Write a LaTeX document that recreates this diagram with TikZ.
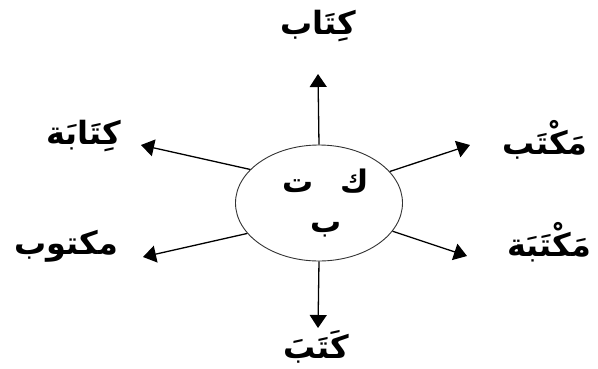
\documentclass[tikz,border=0pt]{standalone}
\usepackage{fontspec}
\usetikzlibrary{shapes.geometric,arrows.meta}
\TeXXeTstate=1
\newfontfamily\arabicfont[Script=Arabic]{DejaVu Sans}
\begin{document}
\begin{tikzpicture}[x=1pt,y=-1pt,
  word/.style={font=\arabicfont\bfseries\fontsize{32}{36}\selectfont, inner sep=0pt},
  root/.style={draw=black!80, line width=0.9pt, ellipse, minimum width=167pt,
    minimum height=116pt, inner sep=0pt},
  letters/.style={align=center, inner sep=0pt,
    font=\arabicfont\bfseries\fontsize{31}{40}\selectfont},
  ray/.style={line width=1.3pt, -{Triangle[length=13pt,width=17pt]}}]
  \useasboundingbox (0,0) rectangle (598,368);

  % root ring and its three letters
  \node[root] (c) at (319,203) {};
  \node[letters] (rt) at (326,203) {\beginR ك\hspace{27pt}ت\endR\\\beginR ب\endR};

  % arrow end points
  \coordinate (tT) at (318,74);
  \coordinate (tUL) at (141,145);
  \coordinate (tUR) at (470,145);
  \coordinate (tLL) at (143,257);
  \coordinate (tLR) at (467,256);
  \coordinate (tB) at (318,328);

  \draw[ray] (c.90) -- (tT);
  \draw[ray] (c.154) -- (tUL);
  \draw[ray] (c.24) -- (tUR);
  \draw[ray] (c.203) -- (tLL);
  \draw[ray] (c.339) -- (tLR);
  \draw[ray] (c.270) -- (tB);

  % derived words
  \node[word] (wT) at (318,26) {\beginR كِتَاب\endR};
  \node[word] (wUL) at (84,136) {\beginR كِتَابَة\endR};
  \node[word] (wUR) at (545,140) {\beginR مَكْتَب\endR};
  \node[word] (wLL) at (66,246) {\beginR مكتوب\endR};
  \node[word] (wLR) at (549,242) {\beginR مَكْتَبَة\endR};
  \node[word] (wB) at (316,347) {\beginR كَتَبَ\endR};
\end{tikzpicture}
\end{document}
